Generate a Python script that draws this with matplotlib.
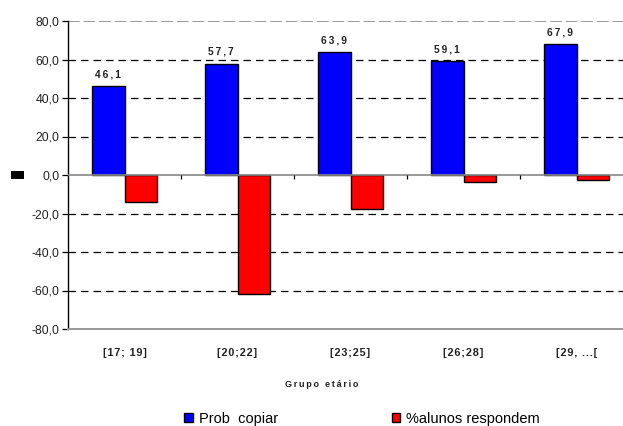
import matplotlib
matplotlib.use("Agg")
import matplotlib.pyplot as plt
import numpy as np
from matplotlib.patches import Rectangle

categories = ["[17; 19]", "[20;22]", "[23;25]", "[26;28]", "[29, ...["]
prob_copiar = [46.1, 57.7, 63.9, 59.1, 67.9]
alunos_respondem = [-14.2, -61.6, -17.7, -3.8, -2.4]
yticks = [-80, -60, -40, -20, 0, 20, 40, 60, 80]

plt.rcParams["font.family"] = ["Liberation Sans", "DejaVu Sans"]


def spaced(s, sep="\u2009"):
    # widen the letter spacing with narrow spaces
    return sep.join(s)


fig = plt.figure(figsize=(6.23, 4.26), dpi=100)
ax = fig.add_axes([68 / 623, 97 / 426, 565 / 623, 308 / 426])

x = np.arange(len(categories))
w = 0.29
b1 = ax.bar(x - w / 2, prob_copiar, w, color="#0000ff", edgecolor="black",
            linewidth=1.0, label="Prob  copiar", zorder=3)
b2 = ax.bar(x + w / 2, alunos_respondem, w, color="#ff0000", edgecolor="black",
            linewidth=1.0, label="%alunos respondem", zorder=3)

for xi, v in zip(x - w / 2, prob_copiar):
    ax.annotate(spaced(f"{v:.1f}".replace(".", ",")), (xi, v), xytext=(0, 5),
                textcoords="offset points", ha="center", va="bottom",
                fontsize=7.3, fontweight="bold", color="#222222")

ax.set_xlim(-0.5, len(categories) - 0.5)
ax.set_ylim(-80, 80)

# horizontal gridlines
for yv in yticks:
    if yv in (-80, 0, 80):
        continue
    ax.axhline(yv, color="black", linestyle=(0, (6, 4)), linewidth=0.9, zorder=1)
ax.axhline(80, color="#999999", linestyle=(0, (6, 2)), linewidth=1.4, zorder=1)
ax.axhline(0, color="#888888", linewidth=1.2, zorder=4)
ax.vlines(x[:-1] + 0.5, -2.2, 0, color="black", linewidth=0.9, zorder=4)

for s in ("top", "right"):
    ax.spines[s].set_visible(False)
ax.spines["bottom"].set_color("#999999")
ax.spines["bottom"].set_linewidth(1.4)
ax.spines["left"].set_color("black")
ax.spines["left"].set_linewidth(1.0)

ax.set_yticks(yticks)
ax.set_yticklabels([f"{v:.1f}".replace(".", ",") for v in yticks],
                   fontsize=8.8, color="#222222")
ax.tick_params(axis="y", length=4, width=0.9, direction="out", pad=2)
ax.set_xticks(x)
ax.set_xticklabels([spaced(c, "\u200a") for c in categories], fontsize=7.8,
                   fontweight="bold", color="#222222")
ax.tick_params(axis="x", length=0, pad=14)
ax.set_xlabel(spaced("Grupo etário"), fontsize=6.5, fontweight="bold",
              color="#222222")
ax.xaxis.set_label_coords((322 - 68) / 565, -(380 - 329) / 308)

leg = fig.legend(handles=[b1, b2], labels=["Prob  copiar", "%alunos respondem"],
                 loc="center", bbox_to_anchor=(362 / 623, 1 - 419 / 426),
                 ncol=2, frameon=False, fontsize=10.5, handlelength=0.6,
                 handleheight=0.6, handletextpad=0.4, columnspacing=7.8)

# stray legend key on the left
fig.patches.append(Rectangle((11 / 623, 1 - 179 / 426), 13 / 623, 8 / 426,
                             transform=fig.transFigure, facecolor="black",
                             edgecolor="none"))

fig.savefig("out.png", dpi=100, facecolor="white")
